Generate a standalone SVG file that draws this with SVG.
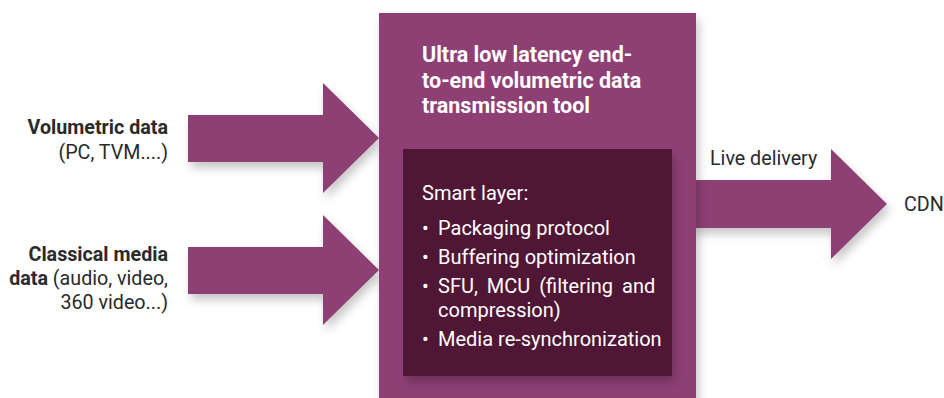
<svg xmlns="http://www.w3.org/2000/svg" width="944" height="398" viewBox="0 0 944 398">
<defs>
<filter id="sh" x="-20%" y="-20%" width="150%" height="160%">
<feDropShadow dx="3" dy="6" stdDeviation="5" flood-color="#000" flood-opacity="0.22"/>
</filter>
<style>
.arrow{fill:#8e4174;filter:url(#sh)}
.lbl{font-family:Roboto,"Liberation Sans",sans-serif;font-size:19.7px;fill:#2a2a2a}
.b{font-weight:bold}
.wt{font-family:Roboto,"Liberation Sans",sans-serif;fill:#ffffff}
</style>
</defs>
<rect width="944" height="398" fill="#ffffff"/>
<g id="connectors">
<polygon class="arrow" points="188,115 323,115 323,83 379,138 323,193 323,162 188,162"/>
<polygon class="arrow" points="188,247 323,247 323,215 379,270 323,325 323,294 188,294"/>
<polygon class="arrow" points="690,180 831,180 831,149 887,204 831,259 831,228 690,228"/>
</g>
<g id="tool">
<rect x="379" y="13" width="317" height="390" fill="#8e4174" filter="url(#sh)"/>
<text class="wt b" font-size="21.5" x="422" y="62">Ultra low latency end-</text>
<text class="wt b" font-size="21.5" x="422" y="88">to-end volumetric data</text>
<text class="wt b" font-size="21.5" x="422" y="113">transmission tool</text>
</g>
<g id="smart-layer">
<rect x="403" y="149" width="269" height="227" fill="#501236" filter="url(#sh)"/>
<text class="wt" font-size="20" x="422" y="200">Smart layer:</text>
<g class="wt" font-size="20">
<text x="422" y="235">•</text><text x="438" y="235">Packaging protocol</text>
<text x="422" y="264">•</text><text x="438" y="264">Buffering optimization</text>
<text x="422" y="293">•</text><text x="438" y="293" word-spacing="4">SFU, MCU (filtering and</text>
<text x="438" y="317">compression)</text>
<text x="422" y="346">•</text><text x="438" y="346">Media re-synchronization</text>
</g>
</g>
<g id="volumetric">
<text class="lbl b" x="168" y="134" text-anchor="end">Volumetric data</text>
<text class="lbl" x="168" y="159" text-anchor="end">(PC, TVM....)</text>
</g>
<g id="classical">
<text class="lbl b" x="168" y="261" text-anchor="end">Classical media</text>
<text class="lbl" x="168" y="285" text-anchor="end"><tspan font-weight="bold">data</tspan> (audio, video,</text>
<text class="lbl" x="168" y="309" text-anchor="end">360 video...)</text>
</g>
<g id="live">
<text class="lbl" x="710" y="165">Live delivery</text>
</g>
<g id="cdn">
<text class="lbl" x="904" y="211">CDN</text>
</g>
</svg>
